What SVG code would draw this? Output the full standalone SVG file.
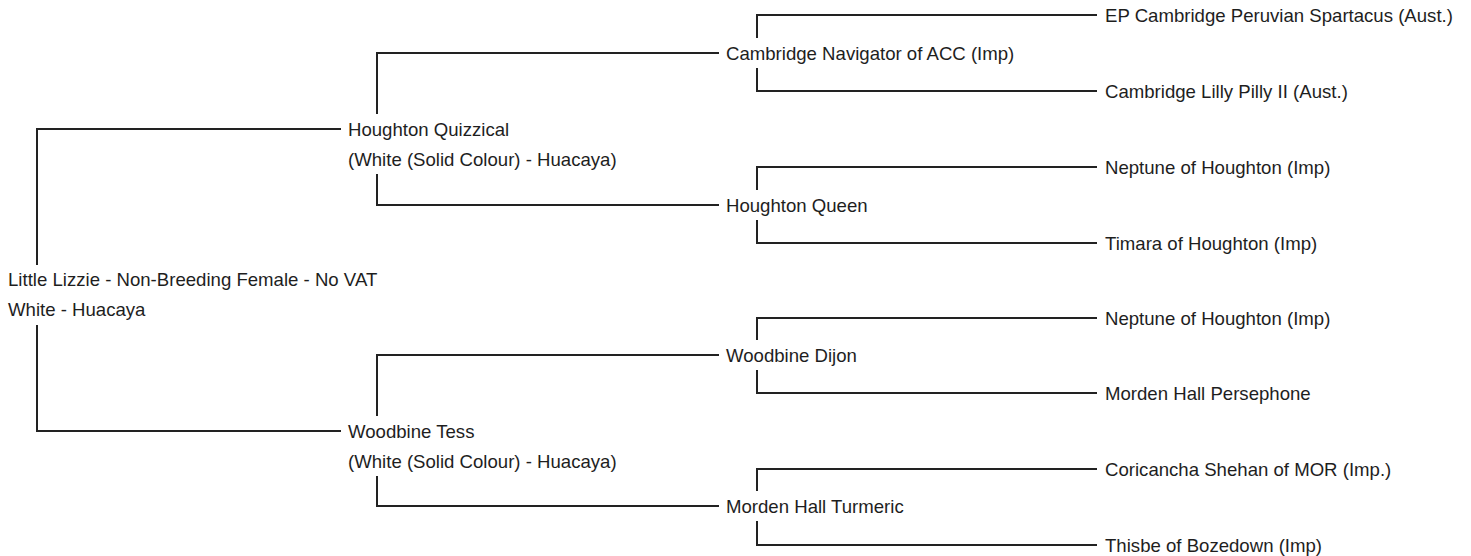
<svg xmlns="http://www.w3.org/2000/svg" width="1471" height="556" viewBox="0 0 1471 556">
<style>
text{font-family:"Liberation Sans",Arial,sans-serif;font-size:18.6px;fill:#1e1e1e}
.c path{fill:none;stroke:#222;stroke-width:2}
</style>
<rect width="1471" height="556" fill="#fff"/>
<g class="c" id="connectors">
<path d="M37,265V129H341"/>
<path d="M37,325V431H341"/>
<path d="M377,114V53H719"/>
<path d="M377,174V205H719"/>
<path d="M377,416V355H719"/>
<path d="M377,476V506H719"/>
<path d="M757,38V15H1097"/>
<path d="M757,68V91H1097"/>
<path d="M757,190V167H1097"/>
<path d="M757,220V243H1097"/>
<path d="M757,340V318H1097"/>
<path d="M757,370V393H1097"/>
<path d="M757,491V469H1097"/>
<path d="M757,521V545H1097"/>
</g>
<g id="root"><text x="8" y="286">Little Lizzie - Non-Breeding Female - No VAT</text><text x="8" y="316">White - Huacaya</text></g>
<g id="n1"><text x="348" y="135.5">Houghton Quizzical</text><text x="348" y="165.5">(White (Solid Colour) - Huacaya)</text></g>
<g id="n2"><text x="348" y="437.5">Woodbine Tess</text><text x="348" y="467.5">(White (Solid Colour) - Huacaya)</text></g>
<g id="n3"><text x="726" y="59.5">Cambridge Navigator of ACC (Imp)</text></g>
<g id="n4"><text x="726" y="211.5">Houghton Queen</text></g>
<g id="n5"><text x="726" y="361.5">Woodbine Dijon</text></g>
<g id="n6"><text x="726" y="512.5">Morden Hall Turmeric</text></g>
<g id="n7"><text x="1105" y="21.5">EP Cambridge Peruvian Spartacus (Aust.)</text></g>
<g id="n8"><text x="1105" y="97.5">Cambridge Lilly Pilly II (Aust.)</text></g>
<g id="n9"><text x="1105" y="173.5">Neptune of Houghton (Imp)</text></g>
<g id="n10"><text x="1105" y="249.5">Timara of Houghton (Imp)</text></g>
<g id="n11"><text x="1105" y="324.5">Neptune of Houghton (Imp)</text></g>
<g id="n12"><text x="1105" y="399.5">Morden Hall Persephone</text></g>
<g id="n13"><text x="1105" y="475.5">Coricancha Shehan of MOR (Imp.)</text></g>
<g id="n14"><text x="1105" y="551.5">Thisbe of Bozedown (Imp)</text></g>
</svg>
